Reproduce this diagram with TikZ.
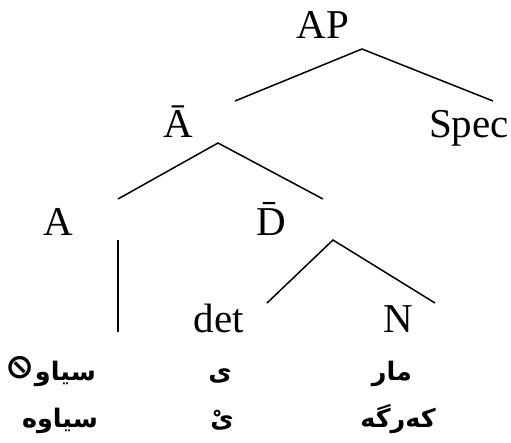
\documentclass[tikz,border=0pt]{standalone}
\usepackage{graphicx}
\usepackage{fontspec}
\setmainfont{Liberation Serif}
\newfontfamily\kurdi[Script=Arabic]{DejaVu Sans}
\newfontfamily\symb{DejaVu Sans}
\TeXXeTstate=1
\tikzset{
  lbl/.style={anchor=base, inner sep=0pt, font=\fontsize{41}{46}\selectfont},
  ku/.style={anchor=base, inner sep=0pt, font=\kurdi\bfseries\fontsize{25.5}{28}\selectfont},
  branch/.style={line width=1.5pt}
}

\begin{document}
\begin{tikzpicture}[x=1pt, y=-1pt]
    \useasboundingbox (0,0) rectangle (511,442);
    % Etiketter
    \node[lbl] (ap) at (323,38) {AP};
    \node[lbl] (abar) at (178,137) {\=A};
    \node[lbl] (spec) at (469,137) {Spec};
    \node[lbl] (a) at (58,235) {A};
    \node[lbl] (dbar) at (271,235) {\=D};
    \node[lbl] (det) at (219,332) {det};
    \node[lbl] (n) at (398,332) {N};
    % Ord
    \node[ku] (siaw1) at (51,380) {\raisebox{2pt}{\scalebox{-1.35}[1.35]{\symb ⊘}}\beginR سیاو\endR};
    \node[ku] (ye1) at (220,380) {\beginR ی\endR};
    \node[ku] (mar) at (392,380) {\beginR مار\endR};
    \node[ku] (siaw2) at (60,427) {\beginR سیاوه\endR};
    \node[ku] (ye2) at (222,427) {\beginR یْ\endR};
    \node[ku] (karga) at (398,427) {\beginR کەرگە\endR};
    % Grenar
    \coordinate (ap-top) at (362,49);
    \coordinate (ap-l) at (235,101);
    \coordinate (ap-r) at (493,101);
    \coordinate (abar-top) at (218,143);
    \coordinate (abar-l) at (118,199);
    \coordinate (abar-r) at (323,199);
    \coordinate (a-top) at (118,240);
    \coordinate (a-bot) at (118,332);
    \coordinate (dbar-top) at (333,240);
    \coordinate (dbar-l) at (267,303);
    \coordinate (dbar-r) at (435,303);
    \draw[branch] (ap-l) -- (ap-top) -- (ap-r);
    \draw[branch] (abar-l) -- (abar-top) -- (abar-r);
    \draw[branch] (a-top) -- (a-bot);
    \draw[branch] (dbar-l) -- (dbar-top) -- (dbar-r);
\end{tikzpicture}
\end{document}
